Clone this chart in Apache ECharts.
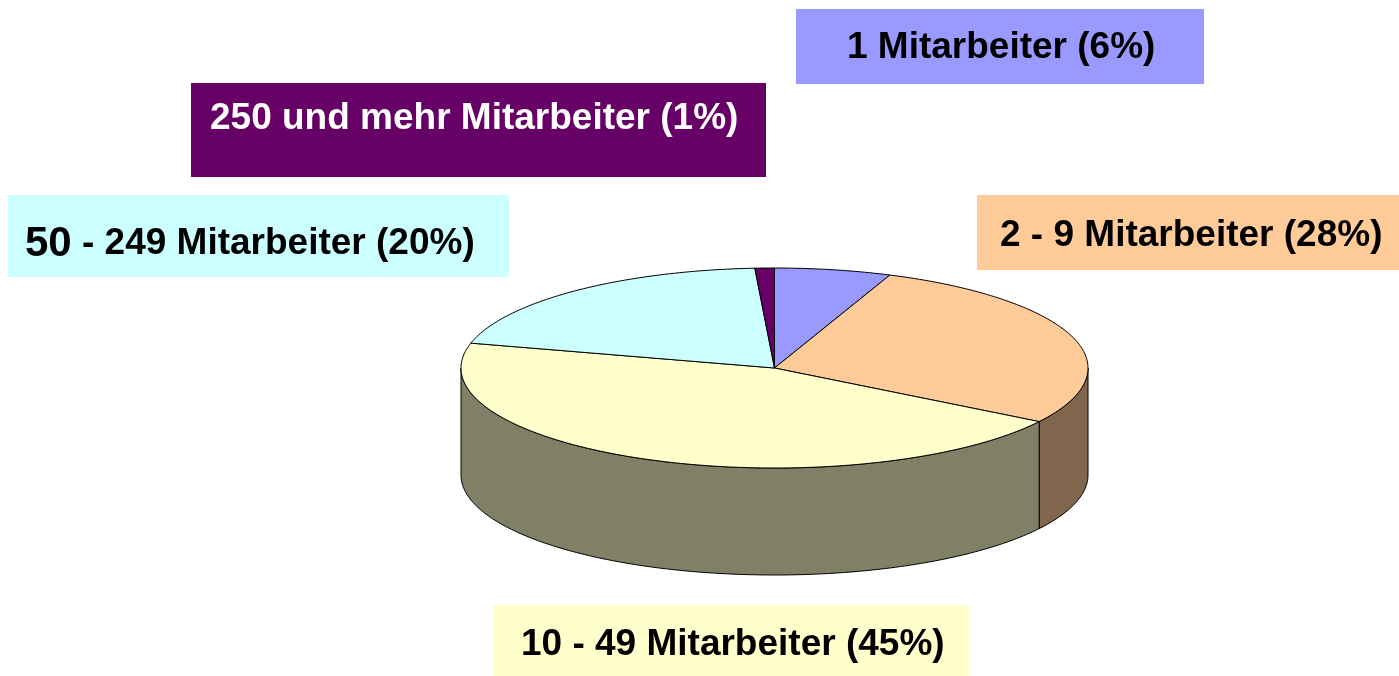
<!DOCTYPE html>
<html lang="de">
<head>
<meta charset="UTF-8">
<title>Mitarbeiter</title>
<style>
  * { margin: 0; padding: 0; }
  html, body { width: 100%; height: 100%; background: #fff; }
  #main { width: 1399px; height: 676px; }
</style>
</head>
<body>
<div id="main"></div>
<script src="https://cdn.jsdelivr.net/npm/echarts@6/dist/echarts.min.js"></script>
<script>
// data
var categories = ['1 Mitarbeiter', '2 - 9 Mitarbeiter', '10 - 49 Mitarbeiter', '50 - 249 Mitarbeiter', '250 und mehr Mitarbeiter'];
var shares = [6, 28, 45, 20, 1];

// styling / layout
var topColors = ['#9999FF', '#FFCC99', '#FFFFCC', '#CCFFFF', '#660066'];
var sideColors = ['#4D4D80', '#80664D', '#808066', '#668080', '#330033'];
var textColors = ['#000', '#000', '#000', '#000', '#fff'];
// label boxes: [x, y, w, h, textX, textY]
var labelBoxes = [
    [796, 9, 408, 75, 847, 48],
    [977, 195, 422, 75, 1000, 236],
    [493, 605, 476, 71, 521, 645],
    [8, 195, 501, 82, 25, 244],
    [191, 83, 575, 94, 210, 119]
];

var pie = { cx: 774.5, cy: 368, rx: 313.5, ry: 100, depth: 107 };
var FONT = '"Liberation Sans", Arial, sans-serif';

var total = shares.reduce(function (a, b) { return a + b; }, 0);
var startAngles = [];
var acc = 0;
shares.forEach(function (v) {
    startAngles.push(acc / total * 360);
    acc += v;
});

// angle clockwise from 12 o'clock
function pt(deg, dy) {
    var r = deg * Math.PI / 180;
    return [pie.cx + pie.rx * Math.sin(r), pie.cy - pie.ry * Math.cos(r) + (dy || 0)];
}

function arc(a, b, dy) {
    var pts = [];
    var n = Math.max(2, Math.ceil(b - a));
    for (var i = 0; i <= n; i++) {
        pts.push(pt(a + (b - a) * i / n, dy));
    }
    return pts;
}

function renderItem(params, api) {
    var i = params.dataIndex;
    var v = api.value(1);
    var a = startAngles[i];
    var b = a + v / total * 360;
    var children = [];

    // front wall (visible between 90 and 270 degrees)
    var wa = Math.max(a, 90), wb = Math.min(b, 270);
    if (wb > wa) {
        var topArc = arc(wa, wb, 0);
        var botArc = arc(wa, wb, pie.depth).reverse();
        children.push({
            type: 'polygon',
            z2: 1,
            shape: { points: topArc.concat(botArc) },
            style: { fill: sideColors[i], stroke: '#000', lineWidth: 1 }
        });
    }

    // top face
    children.push({
        type: 'polygon',
        z2: 2,
        shape: { points: [[pie.cx, pie.cy]].concat(arc(a, b, 0)) },
        style: { fill: topColors[i], stroke: '#000', lineWidth: 1 }
    });

    // label box
    var lb = labelBoxes[i];
    var pct = Math.round(v / total * 100);
    children.push({
        type: 'rect',
        z2: 3,
        shape: { x: lb[0], y: lb[1], width: lb[2], height: lb[3] },
        style: { fill: topColors[i] }
    });
    var name = categories[i];
    var txt, rich = {};
    if (i === 3) {
        var parts = name.split(' - ');
        txt = '{big|' + parts[0] + '}{small| - ' + parts[1] + ' (' + pct + '%)}';
        rich = {
            big: { fontSize: 42, fontWeight: 'bold', fontFamily: FONT, fill: textColors[i] },
            small: { fontSize: 37, fontWeight: 'bold', fontFamily: FONT, fill: textColors[i] }
        };
    } else {
        txt = name + ' (' + pct + '%)';
    }
    children.push({
        type: 'text',
        z2: 4,
        style: {
            text: txt,
            x: lb[4],
            y: lb[5],
            fill: textColors[i],
            font: 'bold 37px ' + FONT,
            textAlign: 'left',
            textVerticalAlign: 'middle',
            rich: rich
        }
    });

    return { type: 'group', children: children };
}

var chart = echarts.init(document.getElementById('main'), null, { renderer: 'canvas' });
chart.setOption({
    backgroundColor: '#fff',
    animation: false,
    series: [{
        type: 'custom',
        coordinateSystem: 'none',
        renderItem: renderItem,
        data: shares.map(function (v, i) { return [i, v]; })
    }]
});
</script>
</body>
</html>
